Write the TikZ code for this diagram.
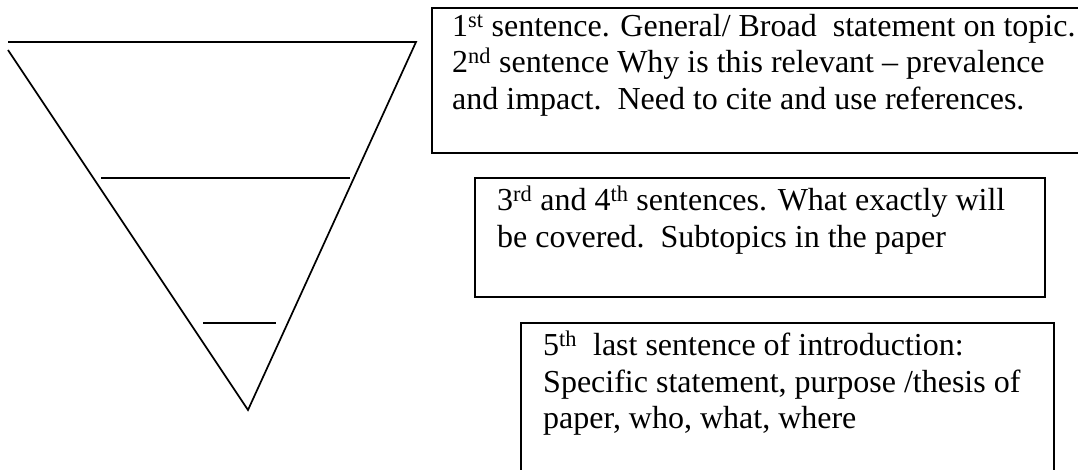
\documentclass[tikz,border=0pt]{standalone}
\usepackage{fontspec}
\setmainfont{Liberation Serif}
\tikzset{
  edge/.style={line width=1.7pt, line cap=butt},
  frame/.style={line width=2pt, line cap=butt},
  boxtext/.style={anchor=north west, align=left, inner sep=0pt,
    font=\fontsize{32}{36.5}\selectfont},
}
\newcommand{\supx}[1]{\textsuperscript{#1}}
\begin{document}
\begin{tikzpicture}[x=1pt,y=-1pt]
  \useasboundingbox (0,0) rectangle (1078,470);
  % inverted triangle with two dividing lines
  \coordinate (tl) at (8,42);
  \coordinate (tr) at (416,42);
  \coordinate (ls) at (8,50);
  \coordinate (apex) at (248,410);
  \coordinate (m1) at (101,178);
  \coordinate (m2) at (350,178);
  \coordinate (s1) at (203,323);
  \coordinate (s2) at (276,323);
  \draw[edge] (tl) -- (tr) -- (apex) -- (ls);
  \draw[edge] (m1) -- (m2);
  \draw[edge] (s1) -- (s2);
  % text boxes (the first and last run past the page edge)
  \begin{scope}
  \clip (0,0) rectangle (1078,470);
  \draw[frame] (1090,8) -- (432,8) -- (432,153) -- (1090,153);
  \node[boxtext] (b1) at (452,14)
    {1\supx{st} sentence. General/ Broad\ \ statement on topic.\\
     2\supx{nd} sentence Why is this relevant -- prevalence\\
     and impact.\ \ Need to cite and use references.};
  \draw[frame] (475,178) rectangle (1045,297);
  \node[boxtext] (b2) at (497,186)
    {3\supx{rd} and 4\supx{th} sentences. What exactly will\\
     be covered.\ \ Subtopics in the paper};
  \draw[frame] (521,480) -- (521,323) -- (1054,323) -- (1054,480);
  \node[boxtext] (b3) at (543,331)
    {5\supx{th}\ \ last sentence of introduction:\\
     Specific statement, purpose /thesis of\\
     paper, who, what, where};
  \end{scope}
\end{tikzpicture}
\end{document}
